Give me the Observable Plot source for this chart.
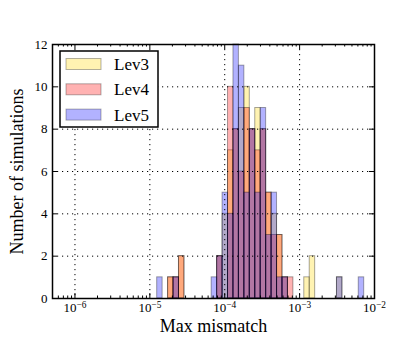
<!DOCTYPE html>
<html><head><meta charset="utf-8">
<script src="https://cdn.jsdelivr.net/npm/d3@7"></script>
<script src="https://cdn.jsdelivr.net/npm/@observablehq/plot@0.6"></script>
<style>body{margin:0;background:#fff;}</style>
</head><body><div id="chart"></div>
<script>
// Levels and colours
const levels = ["Lev3", "Lev4", "Lev5"];
const levelColors = ["#ffd700", "#ff0000", "#0000ff"];
// Histogram bins (log10 of first edge, log10 width), 38 bins
const binStartLog = -4.902;
const binWidthLog = 0.07275;
// Counts per bin for each level
const lev3 = [0,0,1,1,2,0,0,0,0,0,0,2,4,7,8,9,10,8,9,8,5,4,3,1,0,0,0,1,2,0,0,0,0,1,0,0,0,0];
const lev4 = [0,0,1,1,2,0,0,0,0,0,0,2,0,10,8,6,9,8,7,8,5,3,3,1,1,0,0,0,0,0,0,0,0,0,0,0,0,0];
const lev5 = [1,0,0,1,0,0,0,0,0,0,1,2,5,4,12,11,5,8,5,9,3,5,1,1,0,0,0,0,0,0,0,0,0,1,0,0,0,1];
// Axis ticks
const xMajorTicks = [1e-6, 1e-5, 1e-4, 1e-3, 1e-2];
const yTicks = [0, 2, 4, 6, 8, 10, 12];
const xLabel = "Max mismatch";
const yLabel = "Number of simulations";

const xDomain = [Math.pow(10, -6.3), 1e-2];
const series = [lev3, lev4, lev5];
const rows = [];
series.forEach((counts, li) => {
  counts.forEach((c, i) => {
    if (c > 0) rows.push({
      level: levels[li],
      x1: Math.pow(10, binStartLog + i * binWidthLog),
      x2: Math.pow(10, binStartLog + (i + 1) * binWidthLog),
      count: c
    });
  });
});
const xMinorTicks = [];
for (let e = -7; e <= -3; e++) for (let m = 2; m <= 9; m++) {
  const v = m * Math.pow(10, e);
  if (v > xDomain[0] && v < xDomain[1]) xMinorTicks.push(v);
}

const W = 415, H = 341, mL = 52, mR = 41, mT = 44, mB = 43;
const pw = W - mL - mR, ph = H - mT - mB;
const majorLen = 5, minorLen = 2.5;
const gridStyle = {stroke: "black", strokeWidth: 1, strokeDasharray: "1.2,3.8"};

const plot = Plot.plot({
  width: W, height: H,
  marginLeft: mL, marginRight: mR, marginTop: mT, marginBottom: mB,
  style: {fontFamily: "Liberation Serif", fontSize: "12px", background: "white", color: "black"},
  x: {type: "log", domain: xDomain},
  y: {domain: [0, 12]},
  color: {domain: levels, range: levelColors},
  marks: [
    Plot.rectY(rows, {x1: "x1", x2: "x2", y1: 0, y2: "count", fill: "level", fillOpacity: 0.3, stroke: "black", strokeOpacity: 0.35, strokeWidth: 1}),
    Plot.ruleX(xMajorTicks.slice(0, 4), gridStyle),
    Plot.ruleY(yTicks.slice(1, 6), gridStyle),
    // inward ticks on all four sides
    Plot.tickX(xMajorTicks, {x: d => d, insetTop: ph - majorLen, stroke: "black"}),
    Plot.tickX(xMajorTicks, {x: d => d, insetBottom: ph - majorLen, stroke: "black"}),
    Plot.tickX(xMinorTicks, {x: d => d, insetTop: ph - minorLen, stroke: "black"}),
    Plot.tickX(xMinorTicks, {x: d => d, insetBottom: ph - minorLen, stroke: "black"}),
    Plot.tickY(yTicks, {y: d => d, insetRight: pw - majorLen, stroke: "black"}),
    Plot.tickY(yTicks, {y: d => d, insetLeft: pw - majorLen, stroke: "black"}),
    Plot.frame({stroke: "black", strokeWidth: 1.5}),
    Plot.axisX(xMajorTicks, {tickSize: 0, tickPadding: 4, fontSize: 13, label: null,
      tickFormat: d => "10^" + Math.round(Math.log10(d))}),
    Plot.axisY(yTicks, {tickSize: 0, tickPadding: 5, fontSize: 13, label: null}),
    Plot.text([xLabel], {text: d => d, frameAnchor: "bottom", textAnchor: "middle", lineAnchor: "middle", dy: 28, fontSize: 18}),
    Plot.text([yLabel], {text: d => d, frameAnchor: "left", textAnchor: "middle", lineAnchor: "middle", dx: -35, rotate: -90, fontSize: 18})
  ]
});

const svg = d3.select(plot);
// superscript exponents for log tick labels
svg.selectAll('g[aria-label="x-axis tick label"] text').each(function() {
  const t = d3.select(this);
  const s = t.text();
  if (!s.startsWith("10^")) return;
  const exp = s.slice(3).replace("-", "\u2212");
  t.text(null);
  t.append("tspan").text("10");
  t.append("tspan").attr("dy", "-0.45em").attr("font-size", "0.72em").text(exp);
});

// legend box
const lg = svg.append("g").attr("text-anchor", "start");
lg.append("rect").attr("x", 60).attr("y", 51).attr("width", 98).attr("height", 76)
  .attr("fill", "white").attr("stroke", "black").attr("stroke-width", 1.5);
levels.forEach((name, i) => {
  const cy = 64 + i * 25.3;
  lg.append("rect").attr("x", 66).attr("y", cy - 5.5).attr("width", 35).attr("height", 11)
    .attr("fill", levelColors[i]).attr("fill-opacity", 0.3)
    .attr("stroke", "black").attr("stroke-opacity", 0.3);
  lg.append("text").attr("x", 114).attr("y", cy).attr("dy", "0.35em")
    .attr("text-anchor", "start")
    .attr("font-family", "Liberation Serif").attr("font-size", 17).text(name);
});

document.getElementById("chart").appendChild(plot);
</script>
</body></html>
